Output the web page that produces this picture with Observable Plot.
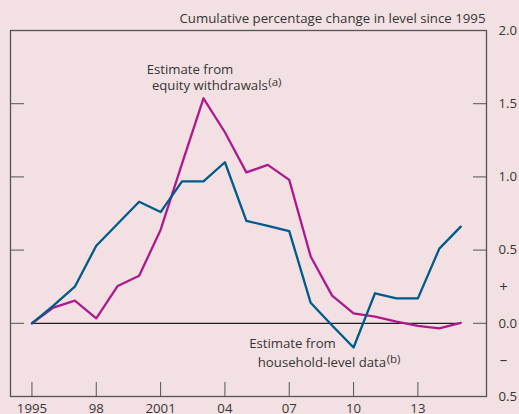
<!DOCTYPE html>
<html><head><meta charset="utf-8">
<script src="https://cdn.jsdelivr.net/npm/d3@7"></script>
<script src="https://cdn.jsdelivr.net/npm/@observablehq/plot@0.6"></script>
<style>
html,body{margin:0;padding:0;background:#f2e0e2;}
</style></head><body><div id="chart"></div>
<script>
const years = [1995,1996,1997,1998,1999,2000,2001,2002,2003,2004,2005,2006,2007,2008,2009,2010,2011,2012,2013,2014,2015];
const household = [0,0.12,0.25,0.53,0.68,0.83,0.76,0.97,0.97,1.10,0.70,0.665,0.63,0.14,-0.015,-0.165,0.205,0.17,0.17,0.51,0.66];
const equity = [0,0.107,0.155,0.034,0.255,0.325,0.638,1.09,1.537,1.305,1.031,1.082,0.98,0.456,0.189,0.068,0.046,0.012,-0.018,-0.034,0.003];

const xTicks = [1995,1998,2001,2004,2007,2010,2013];
const xTickLabels = ["1995","98","2001","04","07","10","13"];
const yTicks = [-0.5,0,0.5,1,1.5,2];
const yTickLabels = ["0.5","0.0","0.5","1.0","1.5","2.0"];
const signValues = [0.25,-0.25];
const signLabels = ["+","–"];
const title = "Cumulative percentage change in level since 1995";

// annotation text: [line1, line2, superscript], anchor positions in data units
const equityLabel = ["Estimate from","equity withdrawals","(a)"];
const equityLabelPos = {x1: 2000.35, y1: 1.706, x2: 2006.0, y2: 1.594};
const householdLabel = ["Estimate from","household-level data","(b)"];
const householdLabelPos = {x1: 2005.13, y1: -0.171, x2: 2011.52, y2: -0.296};

const colors = {household:"#005a8c", equity:"#ad1a8e", frame:"#555555", text:"#363636", zero:"#1f1f1f", bg:"#f2e0e2"};

const data = years.map((y,i)=>({year:y, household:household[i], equity:equity[i]}));

function annot(lbl, pos){
  return [
    Plot.text([lbl[0]], {x: pos.x1, y: pos.y1, text: d=>d, textAnchor:"start", lineAnchor:"bottom", fill: colors.text, fontSize: 13.2}),
    Plot.text([lbl[1]], {x: pos.x2, y: pos.y2, text: d=>d, textAnchor:"end", lineAnchor:"bottom", fill: colors.text, fontSize: 13.2}),
    Plot.text([lbl[2]], {x: pos.x2, y: pos.y2, text: d=>d, textAnchor:"start", lineAnchor:"bottom", dy:-3.5, dx:0.5, fill: colors.text, fontSize: 11.5})
  ];
}

const plot = Plot.plot({
  width: 519, height: 414,
  marginLeft: 10, marginRight: 33, marginTop: 30, marginBottom: 18,
  style: {background: colors.bg, fontFamily: "'Open Sans', sans-serif", fontSize: "13px", color: colors.text, overflow: "visible"},
  x: {domain: [1994, 2016.2]},
  y: {domain: [-0.5, 2]},
  marks: [
    Plot.ruleY([0], {x1: years[0], x2: years[years.length-1], stroke: colors.zero, strokeWidth: 1.2}),
    Plot.axisX({ticks: xTicks, tickFormat: d => xTickLabels[xTicks.indexOf(d)], tickSize: -14, tickPadding: 21, stroke: colors.frame, fill: colors.text, label: null, fontSize: 13.2}),
    Plot.axisY({anchor: "left", ticks: yTicks, tickFormat: () => "", tickSize: -14, stroke: colors.frame, label: null}),
    Plot.axisY({anchor: "right", ticks: yTicks, tickFormat: d => yTickLabels[yTicks.indexOf(d)], tickSize: -14, tickPadding: 26, stroke: colors.frame, fill: colors.text, label: null, fontSize: 13.2}),
    Plot.frame({stroke: colors.frame, strokeWidth: 1.3}),
    Plot.text(signValues, {y: d=>d, text: (d,i)=>signLabels[i], frameAnchor: "right", dx: 17, textAnchor: "middle", fill: colors.text, fontSize: 15}),
    Plot.line(data, {x: "year", y: "equity", stroke: colors.equity, strokeWidth: 2.3}),
    Plot.line(data, {x: "year", y: "household", stroke: colors.household, strokeWidth: 2.3}),
    ...annot(equityLabel, equityLabelPos),
    ...annot(householdLabel, householdLabelPos),
    Plot.text([title], {frameAnchor: "top-right", lineAnchor: "bottom", dy: -8, dx: -1, text: d=>d, fill: colors.text, fontSize: 13.25})
  ]
});
document.getElementById("chart").append(plot);
</script>
</body></html>
